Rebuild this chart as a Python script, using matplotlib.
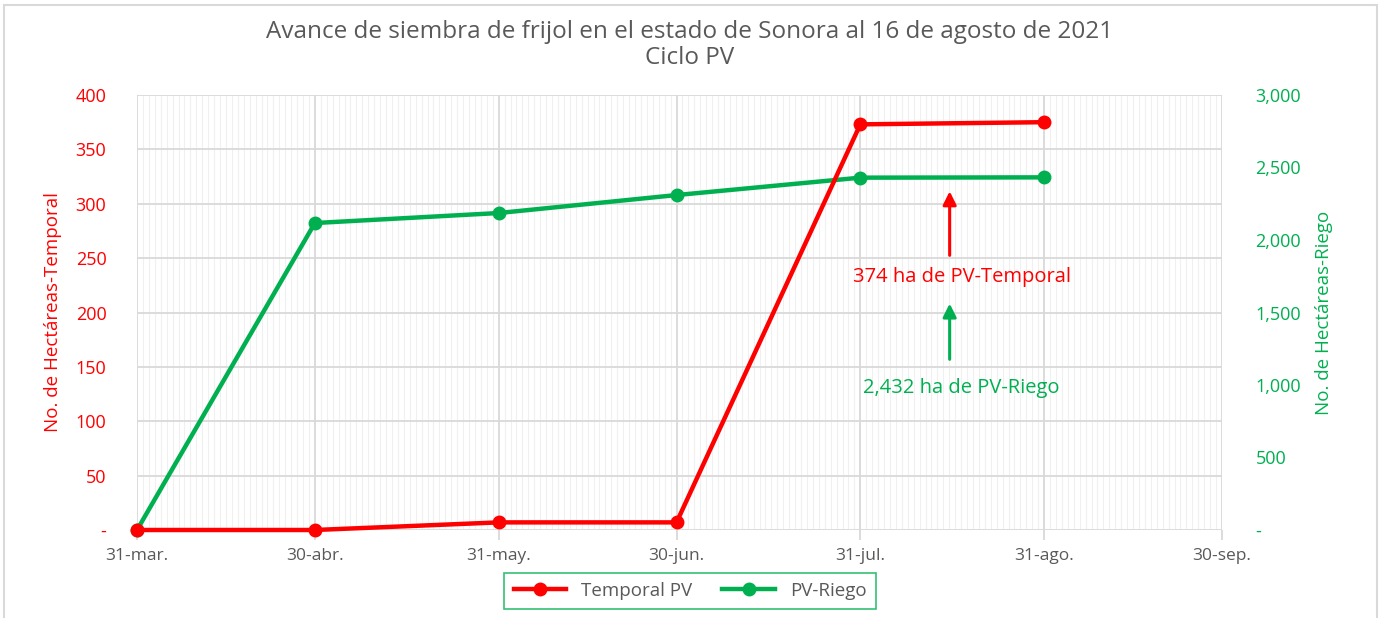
import numpy as np
import pandas as pd
import matplotlib
matplotlib.use("Agg")
import matplotlib.pyplot as plt
import matplotlib.dates as mdates
from matplotlib.patches import Rectangle

plt.rcParams['font.family'] = ['Open Sans', 'DejaVu Sans']

# datos
fechas = pd.to_datetime(['2021-03-31', '2021-04-30', '2021-05-31',
                         '2021-06-30', '2021-07-31', '2021-08-31'])
temporal_pv = [0, 0, 7, 7, 373, 375]
pv_riego = [0, 2117, 2186, 2310, 2430, 2432]

ticks_x = pd.to_datetime(['2021-03-31', '2021-04-30', '2021-05-31', '2021-06-30',
                          '2021-07-31', '2021-08-31', '2021-09-30'])
etiquetas_x = ['31-mar.', '30-abr.', '31-may.', '30-jun.', '31-jul.', '31-ago.', '30-sep.']
ticks_izq = [0, 50, 100, 150, 200, 250, 300, 350, 400]
ticks_der = [0, 500, 1000, 1500, 2000, 2500, 3000]

ROJO = '#FF0000'
VERDE = '#00B050'
GRIS = '#595959'

fig = plt.figure(figsize=(13.81, 6.18), dpi=100)
fig.patches.append(Rectangle((4 / 1381, -0.01), 1373 / 1381, 1.0 - 5 / 618 + 0.01,
                             transform=fig.transFigure, fill=False,
                             edgecolor='#D9D9D9', lw=1.5))

ax = fig.add_axes([137 / 1381, 1 - 530 / 618, 1085 / 1381, 435 / 618])
ax.set_xlim(ticks_x[0], ticks_x[-1])
ax.set_ylim(0, 400)
ax.set_xticks(ticks_x)
ax.set_xticklabels(etiquetas_x)
ax.xaxis.set_minor_locator(mdates.DayLocator())
ax.set_yticks(ticks_izq)
ax.set_yticklabels(['-' if v == 0 else f'{v}' for v in ticks_izq])
ax.grid(axis='y', color='#D9D9D9', lw=1.3)
ax.grid(axis='x', which='major', color='#D9D9D9', lw=1.3)
ax.grid(axis='x', which='minor', color='#F0F0F0', lw=0.8)
ax.tick_params(axis='x', which='major', length=7, color='#D9D9D9', width=1.3,
               labelsize=12.5, labelcolor=GRIS, pad=6)
ax.tick_params(axis='x', which='minor', length=0)
ax.tick_params(axis='y', length=0, labelsize=13, labelcolor=ROJO, pad=22)
for s in ax.spines.values():
    s.set_visible(False)
ax.set_ylabel('No. de Hectáreas-Temporal', color=ROJO, fontsize=13.5, labelpad=10)

ax2 = ax.twinx()
ax2.set_ylim(0, 3000)
ax2.set_yticks(ticks_der)
ax2.set_yticklabels(['-' if v == 0 else f'{v:,}' for v in ticks_der])
ax2.tick_params(axis='y', length=0, labelsize=13, labelcolor=VERDE, pad=24)
for s in ax2.spines.values():
    s.set_visible(False)
ax2.set_ylabel('No. de Hectáreas-Riego', color=VERDE, fontsize=13.5, labelpad=10)
l2, = ax2.plot(fechas, pv_riego, color=VERDE, lw=3.2, marker='o', ms=9,
               label='PV-Riego', clip_on=False)

ax3 = ax.twinx()
ax3.set_ylim(0, 400)
ax3.set_yticks([])
for s in ax3.spines.values():
    s.set_visible(False)
l1, = ax3.plot(fechas, temporal_pv, color=ROJO, lw=3.2, marker='o', ms=9,
               label='Temporal PV', clip_on=False)

# anotaciones
ax3.annotate('', xy=(0.749, 0.785), xytext=(0.749, 0.625), xycoords='axes fraction',
             arrowprops=dict(arrowstyle='-|>', color=ROJO, lw=2.2, mutation_scale=20))
ax3.text(0.760, 0.582, '374 ha de PV-Temporal', transform=ax3.transAxes,
         color=ROJO, fontsize=14.5, ha='center', va='center')
ax3.annotate('', xy=(0.749, 0.527), xytext=(0.749, 0.386), xycoords='axes fraction',
             arrowprops=dict(arrowstyle='-|>', color=VERDE, lw=2.2, mutation_scale=20))
ax3.text(0.760, 0.326, '2,432 ha de PV-Riego', transform=ax3.transAxes,
         color=VERDE, fontsize=14.5, ha='center', va='center')

fig.text(690 / 1381, 1 - 45 / 618,
         'Avance de siembra de frijol en el estado de Sonora al 16 de agosto de 2021\nCiclo PV',
         ha='center', va='center', fontsize=17.5, color=GRIS, linespacing=1.1)

leg = fig.legend(handles=[l1, l2], loc='center', bbox_to_anchor=(690 / 1381, 1 - 591 / 618),
                 ncol=2, fontsize=13.5, frameon=True, fancybox=False,
                 handlelength=2.8, columnspacing=1.6, borderpad=0.5)
leg.get_frame().set_edgecolor(VERDE)
leg.get_frame().set_linewidth(1.2)
for t in leg.get_texts():
    t.set_color(GRIS)

fig.savefig('out.png', dpi=100)
